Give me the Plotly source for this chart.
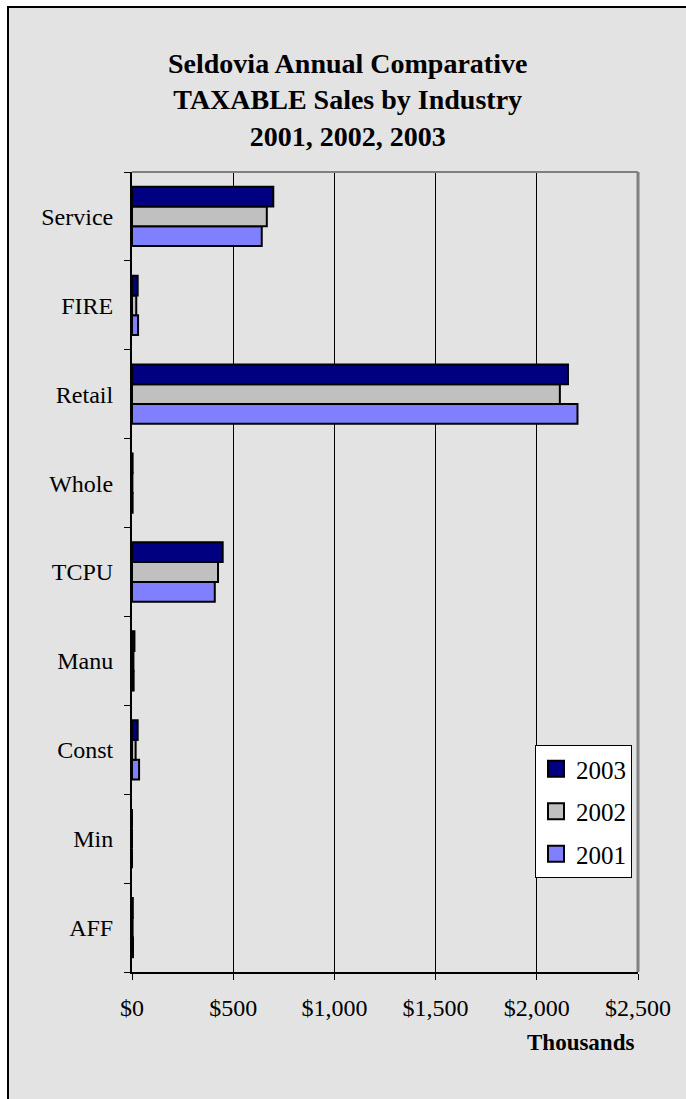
import plotly.graph_objects as go

# Categories listed bottom-to-top (first category sits at the bottom of the axis)
industries = ["AFF", "Min", "Const", "Manu", "TCPU", "Whole", "Retail", "FIRE", "Service"]

# Taxable sales, thousands of dollars
sales_2001 = [5, 0, 35, 8, 409, 3, 2201, 30, 641]
sales_2002 = [3, 0, 18, 7, 425, 2, 2114, 21, 666]
sales_2003 = [4, 0, 28, 12, 448, 3, 2154, 28, 698]

x_ticks = [0, 500, 1000, 1500, 2000, 2500]
x_tick_labels = ["$0", "$500", "$1,000", "$1,500", "$2,000", "$2,500"]

# Page and plot area geometry (pixels)
W, H = 686, 1099
L, R, T, B = 132, 48, 172, 127
PW, PH = W - L - R, H - T - B

FONT = "Liberation Serif, Times New Roman, serif"


def px(x):
    return (x - L) / PW


def py(y):
    return (H - B - y) / PH


series = [
    ("2001", sales_2001, "#8080FF"),
    ("2002", sales_2002, "#C0C0C0"),
    ("2003", sales_2003, "#000080"),
]

fig = go.Figure()

# Bars (trace order 2001 -> 2003 puts 2003 on top within each group)
for name, vals, color in series:
    fig.add_trace(go.Bar(
        y=industries,
        x=vals,
        name=name,
        orientation="h",
        marker=dict(color=color, line=dict(color="black", width=2)),
        showlegend=False,
    ))

# Legend entries with larger square swatches
for rank, (name, vals, color) in enumerate(reversed(series)):
    fig.add_trace(go.Scatter(
        x=[None], y=[None],
        mode="markers",
        name=name,
        legendgroup=name,
        legendrank=rank + 1,
        marker=dict(symbol="square", size=16, color=color,
                    line=dict(color="black", width=2)),
        showlegend=True,
    ))

# Grey chart frame and plot-area border
shapes = [
    dict(type="rect", xref="paper", yref="paper",
         x0=px(8), x1=px(W + 20), y0=py(H + 20), y1=py(7),
         fillcolor="#E3E3E3", line=dict(color="black", width=2), layer="below"),
    dict(type="line", xref="paper", yref="paper",
         x0=0, x1=1, y0=1, y1=1, line=dict(color="#808080", width=2), layer="above"),
    dict(type="line", xref="paper", yref="paper",
         x0=1, x1=1, y0=0, y1=1, line=dict(color="#808080", width=3), layer="above"),
]

annotations = [
    dict(text="<b>Seldovia Annual Comparative<br>TAXABLE Sales by Industry<br>2001, 2002, 2003</b>",
         xref="paper", yref="paper", x=px(347), y=py(100),
         xanchor="center", yanchor="middle", showarrow=False,
         font=dict(family=FONT, size=28, color="black")),
    dict(text="<b>Thousands</b>",
         xref="paper", yref="paper", x=px(636), y=py(1042),
         xanchor="right", yanchor="middle", showarrow=False,
         font=dict(family=FONT, size=23, color="black")),
]

fig.update_layout(
    width=W, height=H, autosize=False,
    margin=dict(l=L, r=R, t=T, b=B, pad=0),
    paper_bgcolor="white",
    plot_bgcolor="white",
    barmode="group",
    bargap=0.333,
    bargroupgap=0,
    font=dict(family=FONT, size=24, color="black"),
    shapes=shapes,
    annotations=annotations,
    legend=dict(
        x=px(632), y=py(878), xanchor="right", yanchor="bottom",
        bgcolor="white", bordercolor="black", borderwidth=1,
        font=dict(family=FONT, size=25, color="black"),
        traceorder="grouped", tracegroupgap=7,
        itemsizing="trace",
    ),
    xaxis=dict(
        range=[0, 2500],
        tickvals=x_ticks,
        ticktext=x_tick_labels,
        showgrid=True, gridcolor="black", gridwidth=1,
        zeroline=False,
        showline=True, linecolor="black", linewidth=2,
        ticks="outside", ticklen=6, tickcolor="black", tickwidth=1,
        ticklabelstandoff=7,
        fixedrange=True,
    ),
    yaxis=dict(
        type="category",
        categoryorder="array", categoryarray=industries,
        showgrid=False, zeroline=False,
        showline=True, linecolor="black", linewidth=2,
        ticks="outside", tickson="boundaries", ticklen=6,
        tickcolor="black", tickwidth=1,
        ticklabelstandoff=12,
        fixedrange=True,
    ),
)

fig.write_html("out.html", config={"displayModeBar": False},
               post_script="document.body.style.margin='0';")
